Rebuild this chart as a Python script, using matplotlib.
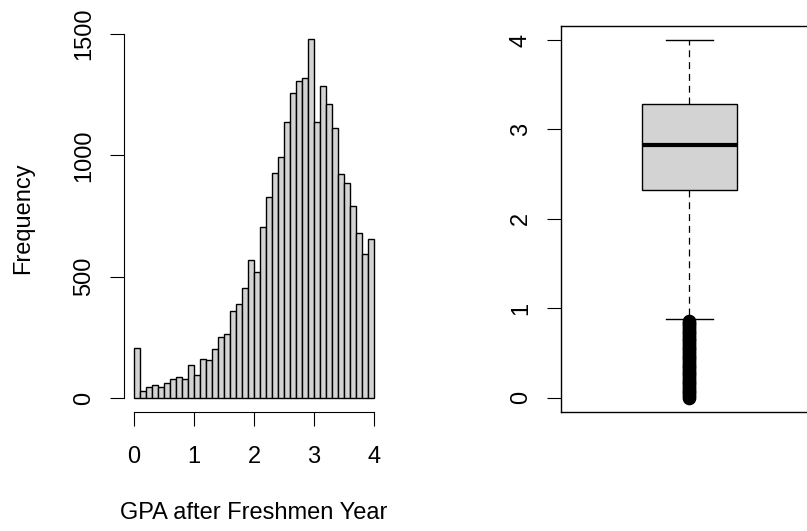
import matplotlib
matplotlib.use("Agg")
import matplotlib.pyplot as plt
import numpy as np

plt.rcParams["font.family"] = ["Liberation Sans", "DejaVu Sans"]
plt.rcParams["lines.scale_dashes"] = False

# histogram counts, GPA bins of width 0.1 from 0 to 4
bin_edges = np.linspace(0, 4, 41)
counts = [205, 30, 47, 55, 44, 61, 78, 88, 80, 136,
          94, 162, 156, 201, 252, 262, 359, 386, 453, 567,
          520, 706, 828, 927, 993, 1136, 1256, 1305, 1319, 1479,
          1137, 1286, 1212, 1111, 925, 888, 793, 679, 593, 655]

# boxplot summary
q1, med, q3 = 2.32, 2.83, 3.28
whis_lo, whis_hi = 0.88, 4.0
fliers = [0.0, 0.02, 0.04, 0.06, 0.08, 0.10, 0.12, 0.14, 0.16, 0.18,
          0.20, 0.22, 0.24, 0.26, 0.28, 0.30, 0.32, 0.34, 0.36, 0.38,
          0.40, 0.42, 0.44, 0.46, 0.48, 0.50, 0.52, 0.54, 0.56, 0.58,
          0.60, 0.62, 0.64, 0.66, 0.68, 0.70, 0.72, 0.74, 0.76, 0.78,
          0.80, 0.82, 0.84, 0.86]

W, H = 807, 531
fig = plt.figure(figsize=(W / 100, H / 100), dpi=100)

gray = "#D3D3D3"
fs = 17

# ---- histogram ----
ax1 = fig.add_axes([124.4 / W, 1 - 412.3 / H, 259.2 / W, 386.5 / H])
ax1.bar(bin_edges[:-1], counts, width=0.1, align="edge",
        color=gray, edgecolor="black", linewidth=1.0)
ax1.set_xlim(-0.16, 4.16)
ax1.set_ylim(-59, 1534)
for s in ["top", "right"]:
    ax1.spines[s].set_visible(False)
ax1.spines["left"].set_bounds(0, 1500)
ax1.spines["bottom"].set_bounds(0, 4)
ax1.set_xticks([0, 1, 2, 3, 4])
ax1.set_yticks([0, 500, 1000, 1500])
ax1.tick_params(axis="x", length=10, width=0.8, pad=14, labelsize=fs)
ax1.tick_params(axis="y", length=10, width=0.8, pad=11, labelsize=fs,
                labelrotation=90)
for t in ax1.get_yticklabels():
    t.set_va("center")

fig.text(23 / W, 1 - 218 / H, "Frequency", rotation=90,
         ha="center", va="center", fontsize=fs)
fig.text(254 / W, 1 - 513 / H, "GPA after Freshmen Year",
         ha="center", va="center", fontsize=fs)

# ---- boxplot ----
ax2 = fig.add_axes([561 / W, 1 - 412 / H, 257 / W, 386.3 / H])
stats = [dict(med=med, q1=q1, q3=q3, whislo=whis_lo, whishi=whis_hi,
              fliers=fliers)]
ax2.bxp(stats, positions=[1], widths=0.8, patch_artist=True,
        boxprops=dict(facecolor=gray, edgecolor="black", linewidth=1.0),
        medianprops=dict(color="black", linewidth=3.0,
                         solid_capstyle="butt"),
        whiskerprops=dict(color="black", linewidth=0.9,
                          linestyle=(0, (5, 3.5))),
        capprops=dict(color="black", linewidth=1.0),
        capwidths=0.4,
        flierprops=dict(marker="o", markerfacecolor="none",
                        markeredgecolor="black", markersize=8,
                        markeredgewidth=1.8))
ax2.set_xlim(-0.080, 2.084)
ax2.set_ylim(-0.16, 4.16)
ax2.set_xticks([])
ax2.set_yticks([0, 1, 2, 3, 4])
ax2.tick_params(axis="y", length=10, width=0.8, pad=11, labelsize=fs,
                labelrotation=90)
for t in ax2.get_yticklabels():
    t.set_va("center")
for s in ax2.spines.values():
    s.set_linewidth(1.0)

fig.savefig("out.png", dpi=100)
